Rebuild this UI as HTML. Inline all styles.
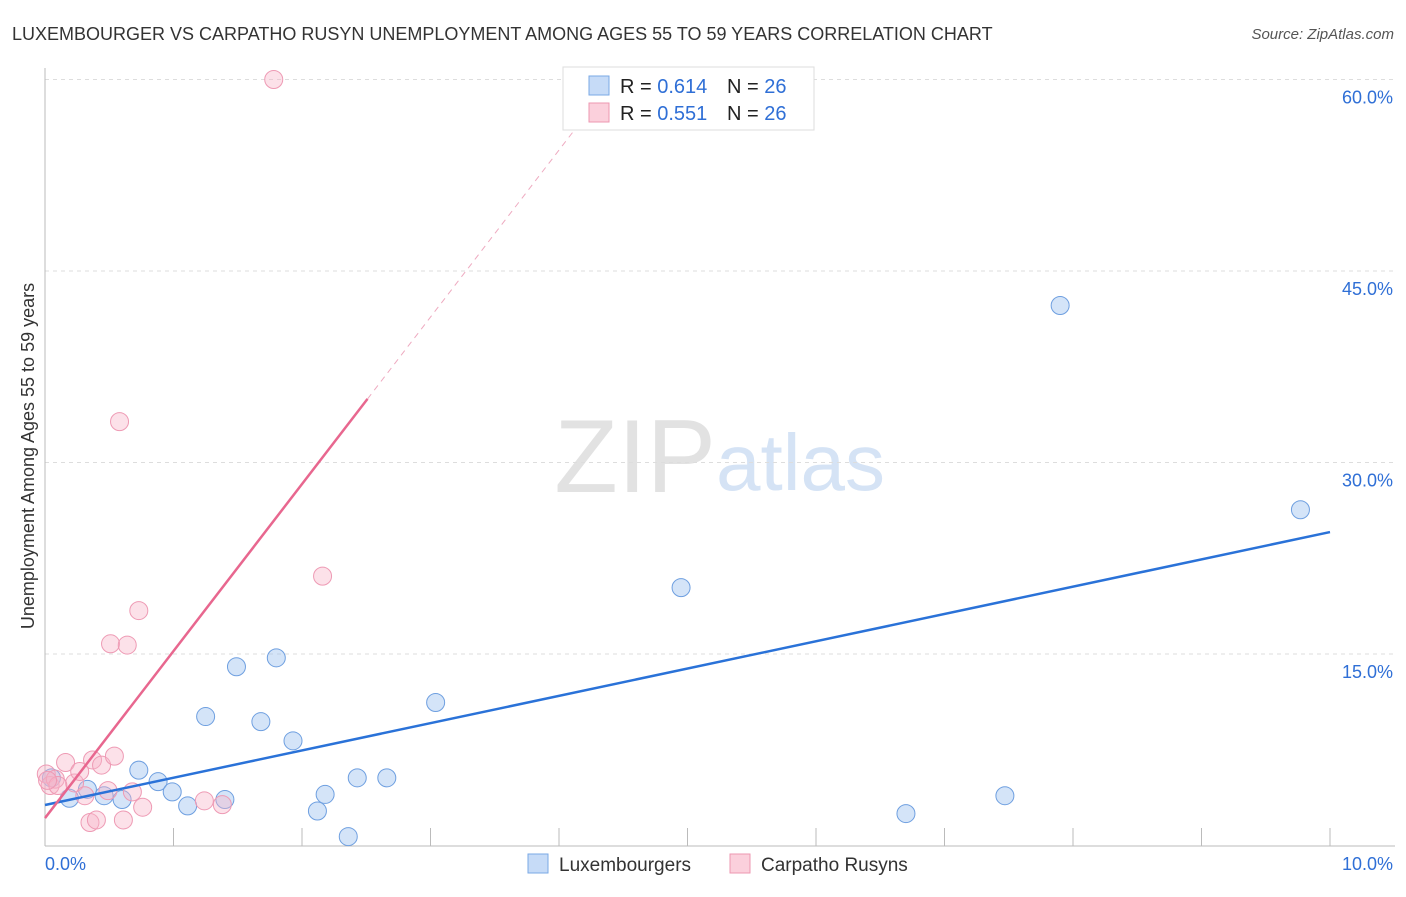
<!DOCTYPE html>
<html><head><meta charset="utf-8"><style>
body{margin:0;background:#fff;font-family:"Liberation Sans",sans-serif;}
svg text{font-family:"Liberation Sans",sans-serif;}
</style></head><body>
<svg id="chart" width="1406" height="892">
<text x="12" y="40" font-size="18" fill="#333">LUXEMBOURGER VS CARPATHO RUSYN UNEMPLOYMENT AMONG AGES 55 TO 59 YEARS CORRELATION CHART</text>
<text x="1394" y="39" font-size="15" fill="#555" font-style="italic" text-anchor="end">Source: ZipAtlas.com</text>
<text x="716" y="492" font-size="104" fill="#e2e2e2" font-family="Liberation Serif" text-anchor="end">ZIP</text>
<text x="716" y="490" font-size="80" fill="#d5e3f5">atlas</text>
<text transform="translate(34,456) rotate(-90)" font-size="18" fill="#333" text-anchor="middle">Unemployment Among Ages 55 to 59 years</text>
<g id="grid"></g><g id="marks"></g>
<g>
<rect x="563" y="67" width="251" height="63" fill="#fff" stroke="#ddd"/>
<rect x="589" y="76" width="20" height="19" fill="#c6dbf7" stroke="#7aa8e6"/>
<rect x="589" y="103" width="20" height="19" fill="#fbd0dc" stroke="#ee97b1"/>
<text x="620" y="93" font-size="20" fill="#222">R = <tspan fill="#2f6fd6">0.614</tspan><tspan x="727">N = </tspan><tspan fill="#2f6fd6">26</tspan></text>
<text x="620" y="120" font-size="20" fill="#222">R = <tspan fill="#2f6fd6">0.551</tspan><tspan x="727">N = </tspan><tspan fill="#2f6fd6">26</tspan></text>
</g>
<g>
<rect x="528" y="854" width="20" height="19" fill="#c6dbf7" stroke="#7aa8e6"/>
<text x="559" y="871" font-size="19" fill="#333">Luxembourgers</text>
<rect x="730" y="854" width="20" height="19" fill="#fbd0dc" stroke="#ee97b1"/>
<text x="761" y="871" font-size="19" fill="#333">Carpatho Rusyns</text>
</g>
</svg>
<script>
const yTicks=[15,30,45,60];
const yTickLabels=["15.0%","30.0%","45.0%","60.0%"];
const xTickLabels=["0.0%","10.0%"];
const luxX=[0.05,0.19,0.33,0.46,0.60,0.73,0.88,0.99,1.11,1.25,1.40,1.49,1.68,1.80,1.93,2.12,2.18,2.36,2.43,2.66,3.04,4.95,6.70,7.47,7.90,9.77];
const luxY=[5.3,3.7,4.4,3.9,3.6,5.9,5.0,4.2,3.1,10.1,3.6,14.0,9.7,14.7,8.2,2.7,4.0,0.7,5.3,5.3,11.2,20.2,2.5,3.9,42.3,26.3];
const rusX=[1.78,0.58,0.73,0.51,0.64,2.16,0.01,0.04,0.08,0.16,0.23,0.27,0.31,0.35,0.4,0.37,0.44,0.49,0.54,0.61,0.68,0.76,1.24,1.38,0.1,0.02];
const rusY=[60.0,33.2,18.4,15.8,15.7,21.1,5.6,4.7,5.2,6.5,4.9,5.8,3.9,1.8,2.0,6.7,6.3,4.3,7.0,2.0,4.2,3.0,3.5,3.2,4.7,5.1];
const luxTrend=[3.17,2.138];
const rusTrend=[2.15,13.08];
const X=v=>45+v*128.5, Y=v=>845.5-v*191.5/15;
const NS="http://www.w3.org/2000/svg";
const grid=document.getElementById('grid'), marks=document.getElementById('marks');
function mk(tag,attrs,parent){const e=document.createElementNS(NS,tag);for(const k in attrs)e.setAttribute(k,attrs[k]);parent.appendChild(e);return e;}
yTicks.forEach((t,i)=>{
 const l=mk('line',{x1:45,x2:1395,y1:Y(t),y2:Y(t),stroke:'#ddd','stroke-dasharray':'4,4'},grid);
 
 
 const tx=mk('text',{x:1393,y:Y(t)+24,'font-size':18,fill:'#2f6fd6','text-anchor':'end'},grid);
 tx.textContent=yTickLabels[i];
 
 
});
const ax=mk('line',{x1:45,x2:45,y1:68,y2:846,stroke:'#bbb'},grid);


const bx=mk('line',{x1:45,x2:1395,y1:846,y2:846,stroke:'#bbb'},grid);


for(let i=0;i<=10;i++){const t=mk('line',{x1:X(i),x2:X(i),y1:828,y2:846,stroke:'#bbb'},grid);
 
 }
[[0,'start',45],[10,'end',1393]].forEach((d,i)=>{const t=mk('text',{x:d[2],y:870,'font-size':18,fill:'#2f6fd6','text-anchor':d[1]},grid);t.textContent=xTickLabels[i];
 
 });
luxY.forEach((v,i)=>{const c=mk('circle',{cx:X(luxX[i]),cy:Y(v),r:9,fill:'rgba(160,196,240,0.45)',stroke:'#6e9fe0','stroke-width':1},marks);
 
 });
rusY.forEach((v,i)=>{const c=mk('circle',{cx:X(rusX[i]),cy:Y(v),r:9,fill:'rgba(248,180,200,0.4)',stroke:'#ee9ab4','stroke-width':1},marks);
 
 });
const bl=mk('line',{x1:X(0),y1:Y(luxTrend[0]),x2:X(10),y2:Y(luxTrend[0]+10*luxTrend[1]),stroke:'#2a72d8','stroke-width':2.5},marks);


const xs=2.51, xe=(60-rusTrend[0])/rusTrend[1];
const pl=mk('line',{x1:X(0),y1:Y(rusTrend[0]),x2:X(xs),y2:Y(rusTrend[0]+xs*rusTrend[1]),stroke:'#e8678f','stroke-width':2.5},marks);


const pd=mk('line',{x1:X(xs),y1:Y(rusTrend[0]+xs*rusTrend[1]),x2:X(xe),y2:Y(60),stroke:'#eeaac0','stroke-width':1,'stroke-dasharray':'6,5'},marks);


</script>
</body></html>
